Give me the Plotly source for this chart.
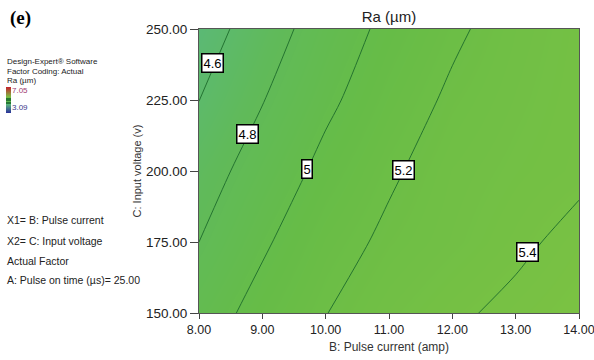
import plotly.graph_objects as go

# Factor grid (B: Pulse current, C: Input voltage) and Ra values
pulse_current = [8.0, 9.0, 10.0, 11.0, 12.0, 13.0, 14.0]
input_voltage = [150.0, 175.0, 200.0, 225.0, 250.0]
ra_values = [
    [4.908, 5.064, 5.196, 5.300, 5.375, 5.435, 5.490],  # C=150
    [4.800, 4.975, 5.131, 5.232, 5.300, 5.370, 5.443],  # C=175
    [4.715, 4.885, 5.049, 5.177, 5.277, 5.330, 5.370],  # C=200
    [4.598, 4.793, 4.964, 5.110, 5.228, 5.300, 5.360],  # C=225
    [4.500, 4.705, 4.895, 5.045, 5.170, 5.275, 5.350],  # C=250
]
ra_min, ra_max = 3.09, 7.05
contour_levels = ["4.6", "4.8", "5", "5.2", "5.4"]
label_b = [8.215, 8.77, 9.70, 11.23, 13.18]
label_c = [238.0, 213.0, 200.7, 200.4, 171.5]
x_ticks = [8, 9, 10, 11, 12, 13, 14]
y_ticks = [150, 175, 200, 225, 250]

def norm(v):
    return (v - ra_min) / (ra_max - ra_min)

colorscale = [
    [0.0, "#2b2f9c"],
    [norm(4.45), "#5ab97a"],
    [norm(4.75), "#60ba5a"],
    [norm(5.05), "#66bc47"],
    [norm(5.5), "#7bc243"],
    [1.0, "#c4202c"],
]

fig = go.Figure()
fig.add_trace(go.Contour(
    x=pulse_current, y=input_voltage, z=ra_values,
    zmin=ra_min, zmax=ra_max, colorscale=colorscale,
    contours=dict(start=4.6, end=5.4, size=0.2, coloring="heatmap"),
    line=dict(color="#1d6b2b", width=0.9, smoothing=0.8),
    colorbar=dict(x=(6 - 199) / 380, xanchor="left", xref="paper",
                  y=(313 - 100) / 284, yanchor="middle",
                  len=26, lenmode="pixels", thickness=5, xpad=0, ypad=0,
                  showticklabels=False, outlinewidth=0, ticks=""),
    hoverinfo="skip",
))

anns = []
for txt, b, c in zip(contour_levels, label_b, label_c):
    anns.append(dict(x=b, y=c, xref="x", yref="y", text=txt, showarrow=False,
                     font=dict(family="Liberation Sans, Arial", size=13, color="black"),
                     bgcolor="white", bordercolor="black", borderwidth=1.5, borderpad=1))

def ptext(x, y, text, size, color="#222", family="Liberation Sans, Arial", bold=False):
    anns.append(dict(x=x, y=y, xref="paper", yref="paper", xanchor="left", yanchor="middle",
                     text=f"<b>{text}</b>" if bold else text, showarrow=False,
                     font=dict(family=family, size=size, color=color)))

def px(xp):
    return (xp - 199) / 380

def py(yp):
    return (313 - yp) / 284

ptext(px(8), py(18), "(e)", 19, color="black", family="Liberation Serif, Times New Roman", bold=True)
ptext(px(5), py(62), "Design-Expert® Software", 8)
ptext(px(5), py(71), "Factor Coding: Actual", 8)
ptext(px(5), py(80), "Ra (µm)", 8)
ptext(px(10), py(90), "7.05", 8, color="#a03a70")
ptext(px(10), py(108), "3.09", 8, color="#3b3a8c")
ptext(px(5), py(220), "X1= B: Pulse current", 10.5)
ptext(px(5), py(240.5), "X2= C: Input voltage", 10.5)
ptext(px(5), py(261), "Actual Factor", 10.5)
ptext(px(5), py(280), "A: Pulse on time (µs)= 25.00", 10.5)

fig.update_layout(
    width=594, height=360,
    margin=dict(l=199, r=15, t=29, b=47, autoexpand=False),
    paper_bgcolor="white", plot_bgcolor="white",
    title=dict(text="Ra (µm)", x=389 / 594, xanchor="center", y=1 - 17 / 360, yanchor="middle",
               font=dict(family="Liberation Sans, Arial", size=15, color="#222")),
    annotations=anns,
    showlegend=False,
    font=dict(family="Liberation Sans, Arial", color="#222"),
)
fig.update_xaxes(range=[8, 14], tickvals=x_ticks, tickformat=".2f", ticks="outside", ticklen=5,
                 tickcolor="#444", showline=True, linecolor="#555", mirror=True, showgrid=False,
                 zeroline=False, tickfont=dict(size=12.5, color="#222"), ticklabeloverflow="allow",
                 automargin=False,
                 title=dict(text="B: Pulse current (amp)", font=dict(size=12, color="#333"), standoff=6))
fig.update_yaxes(range=[150, 250], tickvals=y_ticks, tickformat=".2f", ticks="outside", ticklen=8,
                 tickcolor="#444", showline=True, linecolor="#555", mirror=True, showgrid=False,
                 zeroline=False, tickfont=dict(size=13.5, color="#222"), ticklabeloverflow="allow",
                 automargin=False,
                 title=dict(text="C: Input voltage (v)", font=dict(size=11, color="#333"), standoff=2))

fig.write_html("out.html")
